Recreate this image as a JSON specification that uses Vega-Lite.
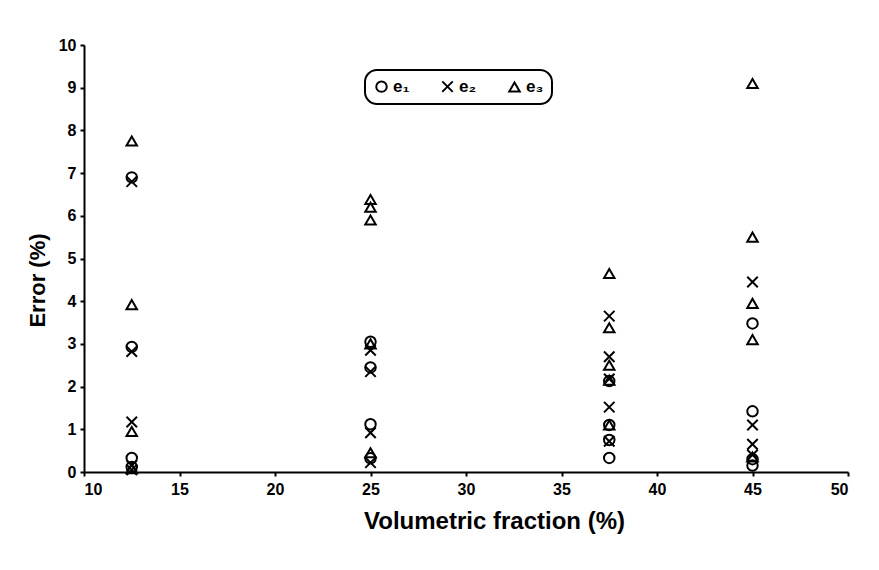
{
  "$schema": "https://vega.github.io/schema/vega-lite/v6.json",
  "width": 764,
  "height": 427,
  "autosize": {"type": "none"},
  "padding": {"left": 84, "top": 45, "right": 31, "bottom": 98},
  "background": "white",
  "config": {
    "view": {"stroke": null},
    "font": "Liberation Sans",
    "legend": {"strokeWidth": 2},
    "axis": {
      "domainColor": "black", "domainWidth": 2, "tickColor": "black", "tickWidth": 2, "tickSize": 4,
      "labelFont": "Liberation Sans", "labelFontWeight": "bold", "labelFontSize": 16, "labelColor": "black",
      "titleFont": "Liberation Sans", "titleFontWeight": "bold", "titleFontSize": 22, "titleColor": "black",
      "grid": false
    }
  },
  "data": {"values": [
    {"x": 12.5, "e": "e₁", "v": 6.9}, {"x": 12.5, "e": "e₁", "v": 2.93}, {"x": 12.5, "e": "e₁", "v": 0.33}, {"x": 12.5, "e": "e₁", "v": 0.12},
    {"x": 12.5, "e": "e₂", "v": 6.8}, {"x": 12.5, "e": "e₂", "v": 2.82}, {"x": 12.5, "e": "e₂", "v": 1.17}, {"x": 12.5, "e": "e₂", "v": 0.15}, {"x": 12.5, "e": "e₂", "v": 0.05},
    {"x": 12.5, "e": "e₃", "v": 7.75}, {"x": 12.5, "e": "e₃", "v": 3.92}, {"x": 12.5, "e": "e₃", "v": 0.95}, {"x": 12.5, "e": "e₃", "v": 0.08},
    {"x": 25, "e": "e₁", "v": 3.05}, {"x": 25, "e": "e₁", "v": 2.45}, {"x": 25, "e": "e₁", "v": 1.12}, {"x": 25, "e": "e₁", "v": 0.32},
    {"x": 25, "e": "e₂", "v": 2.85}, {"x": 25, "e": "e₂", "v": 2.35}, {"x": 25, "e": "e₂", "v": 0.92}, {"x": 25, "e": "e₂", "v": 0.22},
    {"x": 25, "e": "e₃", "v": 6.38}, {"x": 25, "e": "e₃", "v": 6.2}, {"x": 25, "e": "e₃", "v": 5.9}, {"x": 25, "e": "e₃", "v": 3.0}, {"x": 25, "e": "e₃", "v": 0.45},
    {"x": 37.5, "e": "e₁", "v": 2.13}, {"x": 37.5, "e": "e₁", "v": 1.1}, {"x": 37.5, "e": "e₁", "v": 0.75}, {"x": 37.5, "e": "e₁", "v": 0.33},
    {"x": 37.5, "e": "e₂", "v": 3.65}, {"x": 37.5, "e": "e₂", "v": 2.7}, {"x": 37.5, "e": "e₂", "v": 2.18}, {"x": 37.5, "e": "e₂", "v": 1.52}, {"x": 37.5, "e": "e₂", "v": 0.72},
    {"x": 37.5, "e": "e₃", "v": 4.65}, {"x": 37.5, "e": "e₃", "v": 3.38}, {"x": 37.5, "e": "e₃", "v": 2.5}, {"x": 37.5, "e": "e₃", "v": 2.15}, {"x": 37.5, "e": "e₃", "v": 1.1},
    {"x": 45, "e": "e₁", "v": 3.48}, {"x": 45, "e": "e₁", "v": 1.42}, {"x": 45, "e": "e₁", "v": 0.3}, {"x": 45, "e": "e₁", "v": 0.15},
    {"x": 45, "e": "e₂", "v": 4.45}, {"x": 45, "e": "e₂", "v": 1.1}, {"x": 45, "e": "e₂", "v": 0.65}, {"x": 45, "e": "e₂", "v": 0.4},
    {"x": 45, "e": "e₃", "v": 9.1}, {"x": 45, "e": "e₃", "v": 5.5}, {"x": 45, "e": "e₃", "v": 3.95}, {"x": 45, "e": "e₃", "v": 3.1}, {"x": 45, "e": "e₃", "v": 0.35}
  ]},
  "mark": {"type": "point", "filled": false, "stroke": "black", "strokeWidth": 2, "size": 110, "opacity": 1},
  "encoding": {
    "x": {"field": "x", "type": "quantitative", "title": "Volumetric fraction (%)",
      "scale": {"domain": [10, 50], "nice": false, "zero": false},
      "axis": {"values": [10, 15, 20, 25, 30, 35, 40, 45, 50], "labelPadding": 5, "titlePadding": 12, "titleFontSize": 24, "titleX": 410}},
    "y": {"field": "v", "type": "quantitative", "title": "Error (%)",
      "scale": {"domain": [0, 10], "nice": false},
      "axis": {"values": [0, 1, 2, 3, 4, 5, 6, 7, 8, 9, 10], "labelPadding": 4, "titlePadding": 9, "titleY": 235}},
    "shape": {"field": "e", "type": "nominal",
      "scale": {"domain": ["e₁", "e₂", "e₃"], "range": ["circle", "M-1,-1L1,1M1,-1L-1,1", "triangle-up"]},
      "legend": {"title": null, "orient": "none", "legendX": 281, "legendY": 25, "direction": "horizontal",
        "strokeColor": "black", "cornerRadius": 12, "padding": 8,
        "labelFont": "Liberation Sans", "labelFontWeight": "bold", "labelFontSize": 17, "labelColor": "black",
        "symbolStrokeColor": "black", "symbolFillColor": "transparent", "symbolStrokeWidth": 2, "symbolSize": 110,
        "columnPadding": 28, "labelOffset": 3}}
  }
}
